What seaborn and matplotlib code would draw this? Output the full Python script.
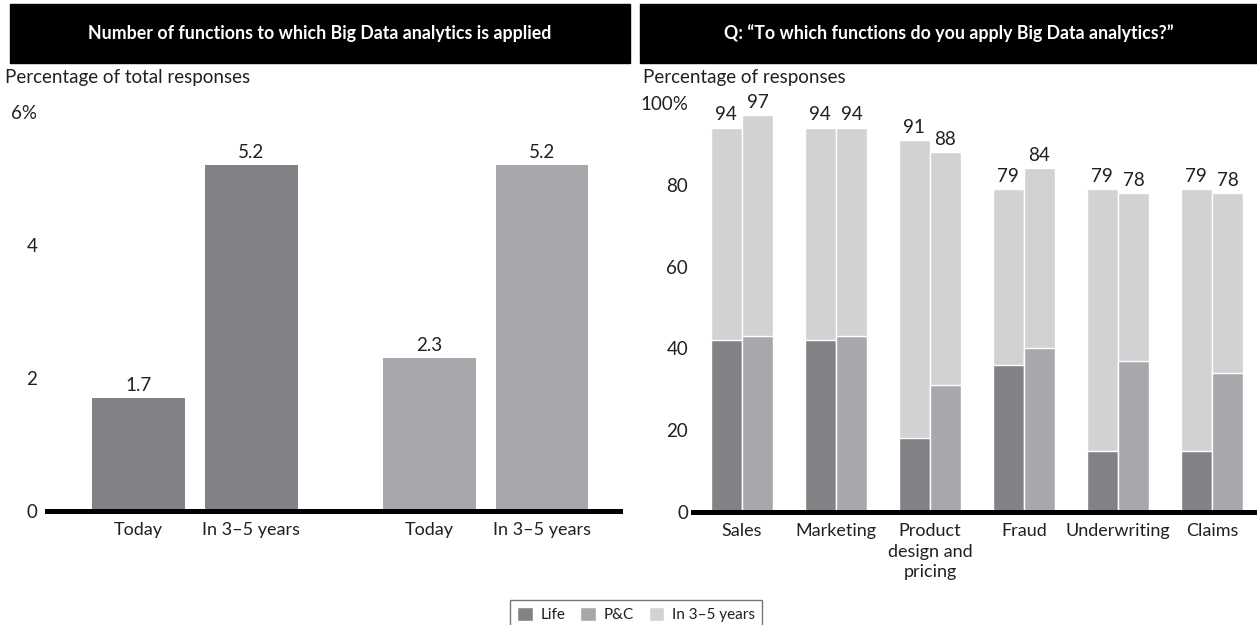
import numpy as np
import pandas as pd
import matplotlib.pyplot as plt
import seaborn as sns
from matplotlib.patches import Rectangle, Patch

# left panel - number of functions to which Big Data analytics is applied
segments = ["Life", "P&C"]
periods = ["Today", "In 3–5 years"]
life_funcs = [1.7, 5.2]
pc_funcs = [2.3, 5.2]

# right panel - share of responses per function
functions = ["Sales", "Marketing", "Product\ndesign and\npricing", "Fraud", "Underwriting", "Claims"]
life_today = [42, 42, 18, 36, 15, 15]
pc_today = [43, 43, 31, 40, 37, 34]
life_future = [94, 94, 91, 79, 79, 79]
pc_future = [97, 94, 88, 84, 78, 78]

DARK, MID, LIGHT = "#818285", "#a7a8ab", "#d1d2d4"
INK = "#231f20"
W, H = 1257, 625

sns.set_theme(style="white")
plt.rcParams["font.family"] = ["Lato", "DejaVu Sans"]
plt.rcParams["text.color"] = INK

fig = plt.figure(figsize=(W / 100, H / 100), dpi=100)

# black title bars
for x0, x1, title in [(10, 630, "Number of functions to which Big Data analytics is applied"),
                      (640, W, "Q: \u201cTo which functions do you apply Big Data analytics?\u201d")]:
    fig.patches.append(Rectangle((x0 / W, 1 - 63 / H), (x1 - x0) / W, 59 / H,
                                 transform=fig.transFigure, color="black", zorder=0))
    fig.text((x0 + x1) / 2 / W, 1 - 33 / H, title, color="white", fontsize=12.8,
             fontweight="bold", ha="center", va="center")

fig.text(5 / W, 1 - 78 / H, "Percentage of total responses", fontsize=13.5, va="center")
fig.text(643 / W, 1 - 78 / H, "Percentage of responses", fontsize=13.5, va="center")

# ---- left chart
left = pd.DataFrame({"segment": np.repeat(segments, 2),
                     "period": periods * 2,
                     "value": life_funcs + pc_funcs})
ax1 = fig.add_axes([47 / W, (H - 511) / H, (620 - 47) / W, 399 / H])
sns.barplot(data=left, x="segment", y="value", hue="period", order=segments,
            hue_order=periods, dodge=True, width=0.777, gap=0.18, saturation=1,
            errorbar=None, legend=False, ax=ax1)
seg_colors = [DARK, MID]
centers, names = [], []
for cont, per in zip(ax1.containers, periods):
    for bar, c in zip(cont, seg_colors):
        bar.set_facecolor(c)
        bar.set_edgecolor("none")
        centers.append(bar.get_x() + bar.get_width() / 2)
        names.append(per)
    ax1.bar_label(cont, fmt="%.1f", padding=3, fontsize=13.5, color=INK)
ax1.set_xticks(centers, names)
ax1.set_xlim(-0.509, 1.462)
ax1.set_ylim(0, 6)
ax1.set_yticks([0, 2, 4, 6], ["0", "2", "4", "6%"])

# ---- right chart
right = pd.DataFrame({"function": functions * 2,
                      "segment": np.repeat(segments, len(functions)),
                      "today": life_today + pc_today,
                      "future": life_future + pc_future})
ax2 = fig.add_axes([693 / W, (H - 512) / H, (W - 693) / W, 409 / H])
sns.barplot(data=right, x="function", y="future", hue="segment", hue_order=segments,
            palette=[LIGHT, LIGHT], width=0.66, saturation=1, edgecolor="white",
            linewidth=1, errorbar=None, legend=False, ax=ax2)
sns.barplot(data=right, x="function", y="today", hue="segment", hue_order=segments,
            palette=[DARK, MID], width=0.66, saturation=1, edgecolor="white",
            linewidth=1, errorbar=None, legend=False, ax=ax2)
for cont in ax2.containers[:2]:
    ax2.bar_label(cont, fmt="%d", padding=3, fontsize=13.5, color=INK)
ax2.set_xlim(-0.52, 5.48)
ax2.set_ylim(0, 100)
ax2.set_yticks([0, 20, 40, 60, 80, 100], ["0", "20", "40", "60", "80", "100%"])

for ax, ypad in [(ax1, 7), (ax2, 3.5)]:
    ax.set_xlabel("")
    ax.set_ylabel("")
    for s in ["left", "right", "top"]:
        ax.spines[s].set_visible(False)
    ax.spines["bottom"].set_linewidth(3.6)
    ax.spines["bottom"].set_color("black")
    ax.tick_params(axis="both", length=0, labelsize=13.5, colors=INK)
    ax.tick_params(axis="y", pad=ypad)
    ax.tick_params(axis="x", pad=8, labelsize=13)
    ax.patch.set_alpha(0)
for lab in ax2.get_xticklabels():
    lab.set_linespacing(1.35)

handles = [Patch(facecolor=DARK), Patch(facecolor=MID), Patch(facecolor=LIGHT)]
leg = fig.legend(handles, ["Life", "P&C", "In 3–5 years"], loc="upper center",
                 bbox_to_anchor=(636 / W, 33 / H), ncol=3, fontsize=11,
                 frameon=True, fancybox=False, edgecolor="#555555",
                 handlelength=1.0, handleheight=1.0, handletextpad=0.5,
                 columnspacing=1.0, borderpad=0.5)
leg.get_frame().set_linewidth(1)

fig.savefig("out.png", dpi=100)
